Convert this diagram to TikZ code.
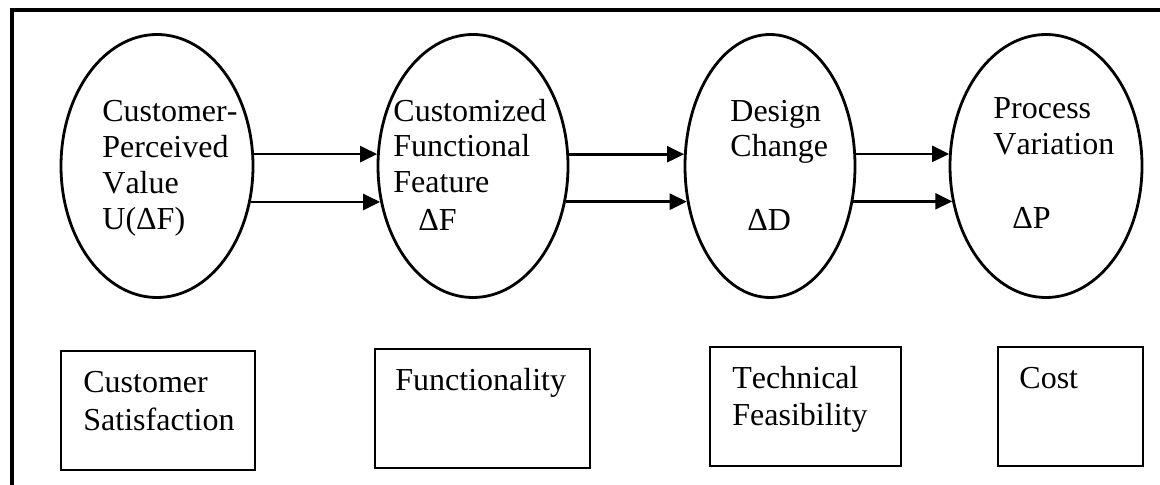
\documentclass[tikz,border=0pt]{standalone}
\usepackage{fontspec}
\setmainfont{Liberation Serif}[Kerning=Off]
\usetikzlibrary{shapes.geometric,arrows.meta}
\tikzset{
  frame/.style={line width=1.6pt},
  oval/.style={draw, ellipse, line width=1.4pt, inner sep=0pt, minimum height=131.5pt},
  box/.style={draw, rectangle, line width=1.4pt, inner sep=0pt, minimum height=59.5pt},
  lbl/.style={inner sep=0pt, anchor=base west, font=\fontsize{16}{18}\selectfont},
  arr/.style={line width=1.3pt, -{Triangle[length=8.5pt,width=8pt]}}
}
\begin{document}
\begin{tikzpicture}[x=0.5pt, y=-0.5pt]
\useasboundingbox (0,0) rectangle (1160,485);
% frame
\coordinate (fb) at (12,486);
\coordinate (fc) at (12,10);
\coordinate (fr) at (1161,10);
\draw[frame] (fb) -- (fc) -- (fr);
% ellipses
\node[oval, minimum width=96pt] (e1) at (157,166) {};
\node[oval, minimum width=95pt] (e2) at (473,166) {};
\node[oval, minimum width=85pt] (e3) at (770,166) {};
\node[oval, minimum width=96pt] (e4) at (1046,166) {};
% ellipse texts
\node[lbl] (t1a) at (102,122) {Customer-};
\node[lbl] (t1b) at (102,158) {Perceived};
\node[lbl] (t1c) at (102,194) {Value};
\node[lbl] (t1d) at (102,230) {U(ΔF)};
\node[lbl] (t2a) at (393,122) {Customized};
\node[lbl] (t2b) at (393,157) {Functional};
\node[lbl] (t2c) at (393,193) {Feature};
\node[lbl] (t2d) at (418,231) {ΔF};
\node[lbl] (t3a) at (730,122) {Design};
\node[lbl] (t3b) at (730,157) {Change};
\node[lbl] (t3d) at (747,231) {ΔD};
\node[lbl] (t4a) at (993,119) {Process};
\node[lbl] (t4b) at (993,155) {Variation};
\node[lbl] (t4d) at (1012,229) {ΔP};
% arrows
\draw[arr] (e1.7.13) -- (e1.7.13 -| e2.172.8);
\draw[arr] (e1.-21.3) -- (e1.-21.3 -| e2.201.5);
\draw[arr] (e2.7.2) -- (e2.7.2 -| e3.171.9);
\draw[arr] (e2.-21.5) -- (e2.-21.5 -| e3.203.75);
\draw[arr] (e3.8.07) -- (e3.8.07 -| e4.172.87);
\draw[arr] (e3.-23.75) -- (e3.-23.75 -| e4.201.3);
% boxes
\node[box, minimum width=97pt] (b1) at (158,410.5) {};
\node[box, minimum width=107.5pt] (b2) at (482.5,408.5) {};
\node[box, minimum width=95.5pt] (b3) at (805.5,406.5) {};
\node[box, minimum width=72.5pt] (b4) at (1070.5,406.5) {};
\node[lbl] (s1a) at (83,393) {Customer};
\node[lbl] (s1b) at (83,430) {Satisfaction};
\node[lbl] (s2a) at (395,391) {Functionality};
\node[lbl] (s3a) at (732,389) {Technical};
\node[lbl] (s3b) at (732,426) {Feasibility};
\node[lbl] (s4a) at (1019,389) {Cost};
\end{tikzpicture}
\end{document}
